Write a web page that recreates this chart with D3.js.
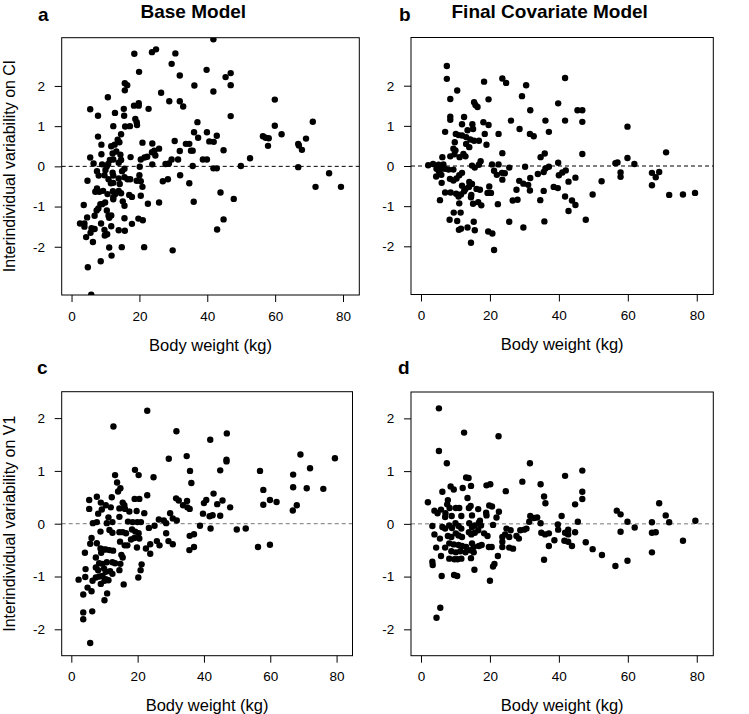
<!DOCTYPE html>
<html><head><meta charset="utf-8">
<script src="https://cdn.jsdelivr.net/npm/d3@7"></script>
<style>
body{margin:0;background:#fff}
svg{display:block}
text{font-family:"Liberation Sans",Arial,Helvetica,sans-serif;fill:#000}
</style></head>
<body><svg id="chart" width="749" height="714"></svg>
<script>
// ---- Data: [body weight (kg), interindividual variability] ----
const baseCl = [[41.8,3.16],[18.5,2.80],[23.7,2.84],[24.9,2.91],[30.6,2.81],[29.5,2.55],[19.9,2.35],[31.9,2.26],[39.8,2.40],[45.4,2.22],[46.9,2.32],[46.9,2.02],[36.2,2.01],[41.8,1.86],[15.7,2.07],[16.4,2.02],[15.7,1.89],[26.4,1.83],[10.7,1.72],[28.8,1.62],[31.9,1.62],[32.9,1.49],[59.9,1.66],[18.4,1.51],[19.8,1.57],[19.8,1.51],[5.5,1.42],[15.4,1.43],[22.7,1.43],[12.8,1.33],[7.8,1.26],[15.5,1.26],[46.9,1.25],[18.8,1.18],[19.2,1.10],[19.3,1.03],[37.1,1.10],[71.1,1.11],[12.3,1.00],[15.8,0.99],[17.2,1.00],[59.9,1.01],[39.9,0.85],[36.1,0.85],[61.9,0.80],[7.8,0.74],[14.6,0.80],[37.3,0.71],[42.8,0.76],[56.4,0.75],[57.2,0.71],[58.1,0.70],[69.1,0.69],[13.6,0.66],[14.1,0.60],[20.9,0.59],[23.8,0.57],[30.4,0.63],[40.6,0.62],[41.9,0.61],[33.7,0.56],[34.7,0.56],[66.8,0.56],[67.0,0.52],[8.8,0.54],[11.7,0.50],[12.7,0.54],[57.9,0.51],[25.8,0.44],[24.4,0.39],[23.7,0.35],[31.9,0.38],[35.7,0.39],[35.2,0.39],[44.8,0.40],[67.9,0.41],[8.8,0.30],[12.1,0.32],[13.2,0.37],[14.4,0.29],[24.7,0.27],[5.5,0.22],[17.4,0.23],[20.4,0.17],[21.5,0.22],[22.3,0.24],[11.3,0.16],[12.3,0.17],[14.6,0.16],[29.5,0.17],[31.4,0.17],[38.7,0.17],[39.9,0.17],[52.6,0.20],[6.5,0.07],[9.0,0.05],[10.8,0.06],[10.4,0.00],[13.9,0.09],[23.8,0.05],[27.7,0.06],[28.7,0.07],[35.7,0.01],[49.9,0.01],[41.8,-0.05],[42.8,-0.05],[66.8,-0.02],[7.5,-0.12],[8.0,-0.23],[10.0,-0.09],[9.7,-0.22],[12.1,-0.16],[12.3,-0.23],[15.6,-0.06],[14.9,-0.12],[20.1,-0.01],[20.0,-0.22],[15.6,-0.27],[16.5,-0.32],[17.3,-0.32],[13.9,-0.30],[4.7,-0.36],[10.9,-0.32],[32.0,-0.22],[75.9,-0.17],[28.4,-0.32],[26.9,-0.37],[19.2,-0.36],[20.4,-0.37],[11.6,-0.42],[12.3,-0.41],[14.2,-0.44],[34.7,-0.42],[20.9,-0.51],[71.9,-0.51],[79.4,-0.51],[7.5,-0.55],[7.0,-0.63],[8.2,-0.63],[9.3,-0.61],[10.6,-0.69],[12.2,-0.62],[12.9,-0.69],[13.9,-0.61],[14.6,-0.67],[17.0,-0.71],[17.8,-0.76],[20.4,-0.73],[43.9,-0.65],[47.8,-0.81],[12.3,-0.77],[12.3,-0.82],[15.1,-0.87],[15.6,-0.98],[22.5,-0.93],[25.8,-0.90],[36.0,-0.88],[3.6,-0.96],[8.5,-0.94],[9.0,-0.94],[9.9,-0.90],[7.9,-1.05],[7.4,-1.10],[10.4,-1.10],[11.7,-1.22],[10.9,-1.23],[6.8,-1.23],[4.6,-1.27],[19.7,-1.30],[21.0,-1.34],[15.6,-1.29],[44.8,-1.32],[11.1,-1.28],[2.5,-1.42],[3.8,-1.50],[3.8,-1.42],[5.9,-1.54],[6.8,-1.56],[8.7,-1.42],[9.7,-1.58],[11.7,-1.49],[17.8,-1.43],[13.9,-1.59],[15.7,-1.60],[4.3,-1.76],[5.6,-1.65],[6.3,-1.88],[9.8,-1.72],[10.5,-1.69],[42.9,-1.57],[11.1,-2.02],[14.8,-2.01],[21.4,-2.01],[29.8,-2.09],[11.8,-2.22],[8.6,-2.36],[4.8,-2.51],[5.8,-3.19]];

const finalCl = [[7.5,2.49],[7.5,2.17],[10.5,1.88],[8.5,1.67],[18.3,2.10],[23.6,2.18],[24.7,2.07],[30.5,2.01],[41.8,2.19],[29.3,1.74],[19.6,1.66],[15.4,1.59],[15.8,1.52],[16.4,1.47],[39.8,1.56],[31.7,1.39],[45.4,1.39],[46.8,1.39],[8.5,1.23],[8.5,1.15],[12.5,1.22],[26.1,1.13],[36.1,1.13],[41.8,1.13],[46.8,1.10],[18.1,1.09],[19.6,1.02],[11.9,1.04],[14.9,1.04],[15.1,0.92],[13.5,0.89],[28.6,0.92],[37.1,0.85],[59.9,0.98],[7.0,0.85],[10.1,0.80],[10.9,0.77],[11.9,0.76],[13.1,0.72],[18.5,0.80],[22.5,0.80],[31.6,0.80],[32.7,0.74],[14.3,0.66],[15.4,0.63],[16.8,0.63],[9.8,0.59],[13.1,0.55],[14.0,0.47],[19.0,0.53],[9.4,0.43],[10.0,0.39],[23.6,0.32],[46.8,0.30],[71.1,0.34],[35.9,0.31],[34.7,0.22],[8.5,0.24],[9.7,0.29],[11.2,0.22],[12.3,0.30],[12.9,0.24],[6.2,0.22],[17.3,0.12],[16.8,0.03],[59.9,0.20],[56.4,0.07],[57.0,0.09],[61.9,0.05],[39.8,0.08],[2.1,0.02],[3.5,0.05],[5.1,0.03],[6.5,0.04],[14.8,0.01],[15.6,-0.04],[20.6,0.04],[22.5,0.04],[25.6,-0.04],[30.2,-0.02],[37.1,-0.02],[36.1,-0.06],[35.6,-0.15],[4.5,-0.07],[5.2,-0.13],[6.0,-0.07],[7.0,-0.07],[4.4,-0.26],[5.9,-0.22],[8.0,-0.09],[9.4,-0.09],[21.2,-0.12],[22.0,-0.22],[23.5,-0.17],[24.3,-0.18],[23.6,-0.34],[11.9,-0.17],[11.1,-0.23],[8.4,-0.32],[9.4,-0.36],[10.3,-0.31],[6.0,-0.42],[31.7,-0.30],[33.9,-0.20],[40.0,-0.23],[41.0,-0.16],[42.0,-0.11],[44.8,-0.29],[42.8,-0.39],[57.9,-0.16],[57.9,-0.27],[67.0,-0.17],[68.1,-0.28],[69.1,-0.15],[28.5,-0.37],[29.7,-0.44],[31.1,-0.47],[31.6,-0.61],[27.7,-0.59],[19.8,-0.51],[19.3,-0.67],[20.3,-0.67],[14.0,-0.40],[14.8,-0.45],[13.9,-0.52],[11.9,-0.49],[12.9,-0.57],[16.1,-0.57],[17.1,-0.59],[7.0,-0.66],[8.6,-0.66],[10.2,-0.69],[10.9,-0.76],[11.6,-0.71],[12.5,-0.63],[14.6,-0.72],[14.5,-0.78],[38.5,-0.52],[39.7,-0.55],[35.6,-0.62],[52.4,-0.38],[67.0,-0.48],[49.8,-0.71],[41.8,-0.76],[72.0,-0.72],[76.0,-0.71],[79.5,-0.67],[5.5,-0.85],[11.1,-0.93],[15.1,-0.94],[16.6,-0.90],[17.5,-0.98],[22.3,-0.95],[26.6,-0.86],[28.0,-0.84],[34.6,-0.85],[43.8,-0.86],[44.8,-0.97],[42.8,-1.12],[9.5,-1.16],[11.5,-1.16],[8.3,-1.34],[10.5,-1.37],[11.0,-1.59],[11.6,-1.56],[13.5,-1.53],[15.3,-1.39],[15.6,-1.60],[25.6,-1.39],[35.8,-1.38],[47.8,-1.34],[29.7,-1.53],[19.5,-1.63],[20.7,-1.68],[14.5,-1.91],[21.2,-2.09]];

const baseV1 = [[22.9,2.14],[12.7,1.84],[31.7,1.75],[46.9,1.71],[41.9,1.59],[29.4,1.23],[34.8,1.28],[46.8,1.21],[46.8,1.18],[69.1,1.31],[79.5,1.24],[72.0,1.05],[19.2,1.02],[20.3,0.92],[35.8,1.00],[44.9,1.01],[56.9,1.00],[13.2,0.92],[24.8,0.88],[66.9,0.93],[13.8,0.78],[36.2,0.77],[14.8,0.67],[14.1,0.61],[66.9,0.69],[71.0,0.67],[76.0,0.66],[57.9,0.64],[42.9,0.57],[22.9,0.54],[12.2,0.50],[7.7,0.51],[5.4,0.45],[5.4,0.28],[19.1,0.47],[20.5,0.47],[31.6,0.48],[32.4,0.44],[34.9,0.43],[59.9,0.45],[61.9,0.41],[40.0,0.39],[40.7,0.45],[45.6,0.44],[44.0,0.37],[57.9,0.36],[68.0,0.35],[8.9,0.40],[9.2,0.27],[10.4,0.35],[11.9,0.31],[15.5,0.40],[16.0,0.35],[14.5,0.29],[16.2,0.28],[33.7,0.35],[35.0,0.31],[35.7,0.28],[47.9,0.31],[17.5,0.23],[19.7,0.24],[22.0,0.20],[29.8,0.20],[39.7,0.19],[41.7,0.14],[42.6,0.16],[44.9,0.15],[66.8,0.25],[8.1,0.19],[11.2,0.12],[14.5,0.13],[26.4,0.08],[27.9,0.06],[30.6,0.10],[31.8,0.06],[6.5,0.01],[7.7,0.03],[10.7,0.01],[12.4,0.03],[17.1,0.04],[18.5,0.03],[19.9,0.03],[21.0,0.03],[25.1,-0.04],[23.4,-0.08],[28.6,0.01],[28.6,-0.18],[38.8,-0.04],[42.0,-0.09],[49.9,-0.11],[52.6,-0.09],[8.8,-0.15],[6.1,-0.27],[5.7,-0.38],[7.7,-0.37],[11.5,-0.12],[12.4,-0.17],[14.5,-0.16],[15.5,-0.16],[16.5,-0.18],[18.3,-0.11],[19.3,-0.15],[20.3,-0.18],[18.0,-0.30],[19.0,-0.27],[20.5,-0.28],[14.7,-0.34],[16.1,-0.41],[16.9,-0.41],[19.8,-0.45],[23.8,-0.39],[25.8,-0.33],[26.6,-0.41],[29.3,-0.33],[30.6,-0.39],[35.7,-0.23],[37.0,-0.20],[35.6,-0.50],[37.0,-0.44],[22.5,-0.47],[23.8,-0.57],[56.3,-0.44],[59.9,-0.40],[4.1,-0.55],[8.8,-0.47],[9.0,-0.55],[9.7,-0.49],[10.4,-0.49],[11.5,-0.50],[12.6,-0.51],[15.1,-0.59],[15.5,-0.64],[7.4,-0.64],[8.4,-0.75],[9.4,-0.76],[10.7,-0.73],[12.4,-0.73],[13.2,-0.75],[14.8,-0.76],[21.2,-0.77],[20.9,-0.88],[4.3,-0.86],[7.4,-0.83],[8.1,-0.88],[9.9,-0.85],[10.4,-0.91],[11.7,-0.90],[12.4,-0.95],[14.5,-0.88],[6.4,-1.08],[7.4,-1.02],[8.4,-1.00],[9.4,-0.99],[10.4,-1.05],[11.2,-1.07],[10.0,-1.08],[4.2,-1.01],[2.2,-1.06],[8.9,-1.14],[15.8,-1.15],[20.2,-1.02],[4.9,-1.21],[6.1,-1.28],[3.6,-1.34],[10.8,-1.32],[10.0,-1.45],[3.6,-1.68],[3.6,-1.81],[6.3,-1.66],[5.7,-2.26]];

const finalV1 = [[5.2,2.19],[12.5,1.73],[5.2,1.38],[22.5,1.66],[7.5,1.15],[31.6,1.15],[46.8,1.01],[41.8,0.91],[13.1,0.88],[13.8,0.87],[29.4,0.80],[34.7,0.75],[8.6,0.71],[9.5,0.65],[12.1,0.68],[14.5,0.72],[19.0,0.73],[20.1,0.75],[24.6,0.62],[46.8,0.61],[6.2,0.61],[35.7,0.52],[36.1,0.39],[46.8,0.47],[13.5,0.49],[2.0,0.41],[7.8,0.45],[7.6,0.37],[5.8,0.27],[3.9,0.25],[4.8,0.20],[8.3,0.30],[10.1,0.30],[11.1,0.30],[13.9,0.30],[14.4,0.34],[16.6,0.28],[19.8,0.35],[20.6,0.33],[18.9,0.21],[19.0,0.16],[22.6,0.23],[21.9,0.12],[44.7,0.37],[56.8,0.25],[57.9,0.18],[69.1,0.39],[71.0,0.16],[31.7,0.15],[32.8,0.11],[33.7,0.12],[40.8,0.15],[7.1,0.20],[7.0,0.13],[8.9,0.15],[11.7,0.15],[14.8,0.16],[17.1,0.06],[31.4,0.04],[34.7,0.01],[45.5,0.04],[59.9,0.04],[67.0,0.03],[72.0,0.03],[79.6,0.06],[62.0,-0.07],[3.3,-0.04],[6.2,-0.06],[7.0,-0.09],[8.2,-0.03],[9.0,-0.08],[10.0,0.01],[10.9,-0.04],[11.7,-0.09],[14.0,0.01],[14.8,-0.06],[15.6,-0.03],[16.8,0.02],[17.4,-0.03],[20.9,-0.02],[24.8,-0.09],[26.0,-0.12],[27.7,-0.23],[28.8,-0.12],[29.9,-0.11],[30.6,-0.09],[34.9,-0.17],[36.0,-0.20],[37.1,-0.18],[39.7,-0.01],[39.8,-0.11],[41.8,-0.17],[42.7,-0.11],[42.7,-0.20],[44.7,-0.16],[57.9,-0.15],[67.0,-0.17],[68.1,-0.16],[76.0,-0.32],[3.9,-0.20],[5.5,-0.28],[7.8,-0.23],[8.8,-0.25],[10.1,-0.18],[10.9,-0.22],[11.9,-0.25],[13.9,-0.16],[14.6,-0.20],[15.6,-0.17],[16.6,-0.12],[18.3,-0.18],[19.3,-0.23],[23.6,-0.25],[24.4,-0.20],[25.6,-0.25],[28.4,-0.28],[38.7,-0.31],[41.6,-0.32],[42.7,-0.34],[43.8,-0.42],[37.1,-0.42],[47.8,-0.35],[49.8,-0.48],[52.5,-0.59],[4.4,-0.45],[7.0,-0.45],[8.2,-0.37],[9.5,-0.39],[10.9,-0.40],[11.9,-0.42],[13.1,-0.44],[14.8,-0.37],[15.3,-0.44],[16.8,-0.42],[17.6,-0.40],[19.7,-0.44],[20.5,-0.44],[23.6,-0.34],[23.6,-0.44],[25.6,-0.45],[26.7,-0.47],[8.8,-0.52],[10.1,-0.54],[11.4,-0.52],[12.9,-0.54],[14.3,-0.50],[15.3,-0.54],[5.8,-0.61],[8.2,-0.66],[9.7,-0.67],[10.6,-0.67],[11.7,-0.66],[14.5,-0.65],[22.3,-0.61],[35.7,-0.68],[67.0,-0.54],[59.9,-0.70],[56.4,-0.80],[3.3,-0.72],[3.4,-0.78],[21.3,-0.76],[20.9,-0.81],[15.5,-0.87],[6.0,-0.99],[9.6,-0.97],[10.5,-0.99],[20.0,-1.08],[5.6,-1.59],[4.5,-1.78]];

const xTicks = [0, 20, 40, 60, 80];
const yTicks = [-2, -1, 0, 1, 2];
const xLabel = "Body weight (kg)";
const yLabelCl = "Interindividual variability on Cl";
const yLabelV1 = "Interindividual variability on V1";
const titles = ["Base Model", "Final Covariate Model"];
const letters = ["a", "b", "c", "d"];

// ---- Layout ----
const xDomain = [-2.9, 84.8];
const panels = [
  {data: baseCl,  box: [61.7, 37.7, 359.3, 295],   yDom: [-3.2, 3.2], title: titles[0], titleX: 193.3, letter: letters[0], lx: 38,  ly: 20.7,  ylab: yLabelCl, dash: "#000"},
  {data: finalCl, box: [411, 37.5, 713.3, 294.5],  yDom: [-3.2, 3.2], title: titles[1], titleX: 549.7, letter: letters[1], lx: 399, ly: 20.7,  ylab: null,     dash: "#000"},
  {data: baseV1,  box: [61.7, 391.7, 352.5, 655.7],yDom: [-2.5, 2.5], title: null,      letter: letters[2], lx: 37,  ly: 373.5, ylab: yLabelV1, dash: "#777"},
  {data: finalV1, box: [411, 392, 713.3, 655.7],   yDom: [-2.5, 2.5], title: null,      letter: letters[3], lx: 398, ly: 374,   ylab: null,     dash: "#777"}
];

const svg = d3.select("#chart");
const font = '"Liberation Sans",Arial,Helvetica,sans-serif';

panels.forEach((p, i) => {
  const [x0, y0, x1, y1] = p.box;
  const x = d3.scaleLinear().domain(xDomain).range([x0, x1]);
  const y = d3.scaleLinear().domain(p.yDom).range([y1, y0]);
  const g = svg.append("g");

  g.append("clipPath").attr("id", "clip" + i)
    .append("rect").attr("x", x0).attr("y", y0).attr("width", x1 - x0).attr("height", y1 - y0);

  // reference line at 0
  g.append("line")
    .attr("x1", x0).attr("x2", x1).attr("y1", y(0)).attr("y2", y(0))
    .attr("stroke", p.dash).attr("stroke-width", 1).attr("stroke-dasharray", "4,3");

  // points
  g.append("g").attr("clip-path", `url(#clip${i})`)
    .selectAll("circle").data(p.data).join("circle")
    .attr("cx", d => x(d[0])).attr("cy", d => y(d[1])).attr("r", 3.2).attr("fill", "#000");

  // box
  g.append("rect").attr("x", x0).attr("y", y0).attr("width", x1 - x0).attr("height", y1 - y0)
    .attr("fill", "none").attr("stroke", "#000").attr("stroke-width", 1);

  // x axis
  const xa = g.append("g").attr("transform", `translate(0,${y1})`)
    .call(d3.axisBottom(x).tickValues(xTicks).tickSize(7).tickPadding(9).tickFormat(d3.format("d")));
  xa.select(".domain").remove();
  xa.selectAll("text").attr("font-size", 13.5).attr("font-family", font).attr("fill", "#000");
  xa.selectAll("line").attr("stroke", "#000");

  // y axis
  const ya = g.append("g").attr("transform", `translate(${x0},0)`)
    .call(d3.axisLeft(y).tickValues(yTicks).tickSize(7).tickPadding(9.7).tickFormat(d => String(d)));
  ya.select(".domain").remove();
  ya.selectAll("text").attr("font-size", 13.5).attr("font-family", font).attr("fill", "#000");
  ya.selectAll("line").attr("stroke", "#000");

  // x label
  g.append("text").attr("x", (x0 + x1) / 2).attr("y", y1 + 55.7)
    .attr("text-anchor", "middle").attr("font-size", 16.5).text(xLabel);

  // y label
  if (p.ylab) {
    g.append("text").attr("transform", `translate(14.5,${(y0 + y1) / 2}) rotate(-90)`)
      .attr("text-anchor", "middle").attr("font-size", 16).text(p.ylab);
  }

  // title
  if (p.title) {
    g.append("text").attr("x", p.titleX).attr("y", 17.5)
      .attr("text-anchor", "middle").attr("font-size", 19).attr("font-weight", "bold").text(p.title);
  }

  // panel letter
  g.append("text").attr("x", p.lx).attr("y", p.ly)
    .attr("font-size", 19).attr("font-weight", "bold").text(p.letter);
});
</script>
</body></html>
